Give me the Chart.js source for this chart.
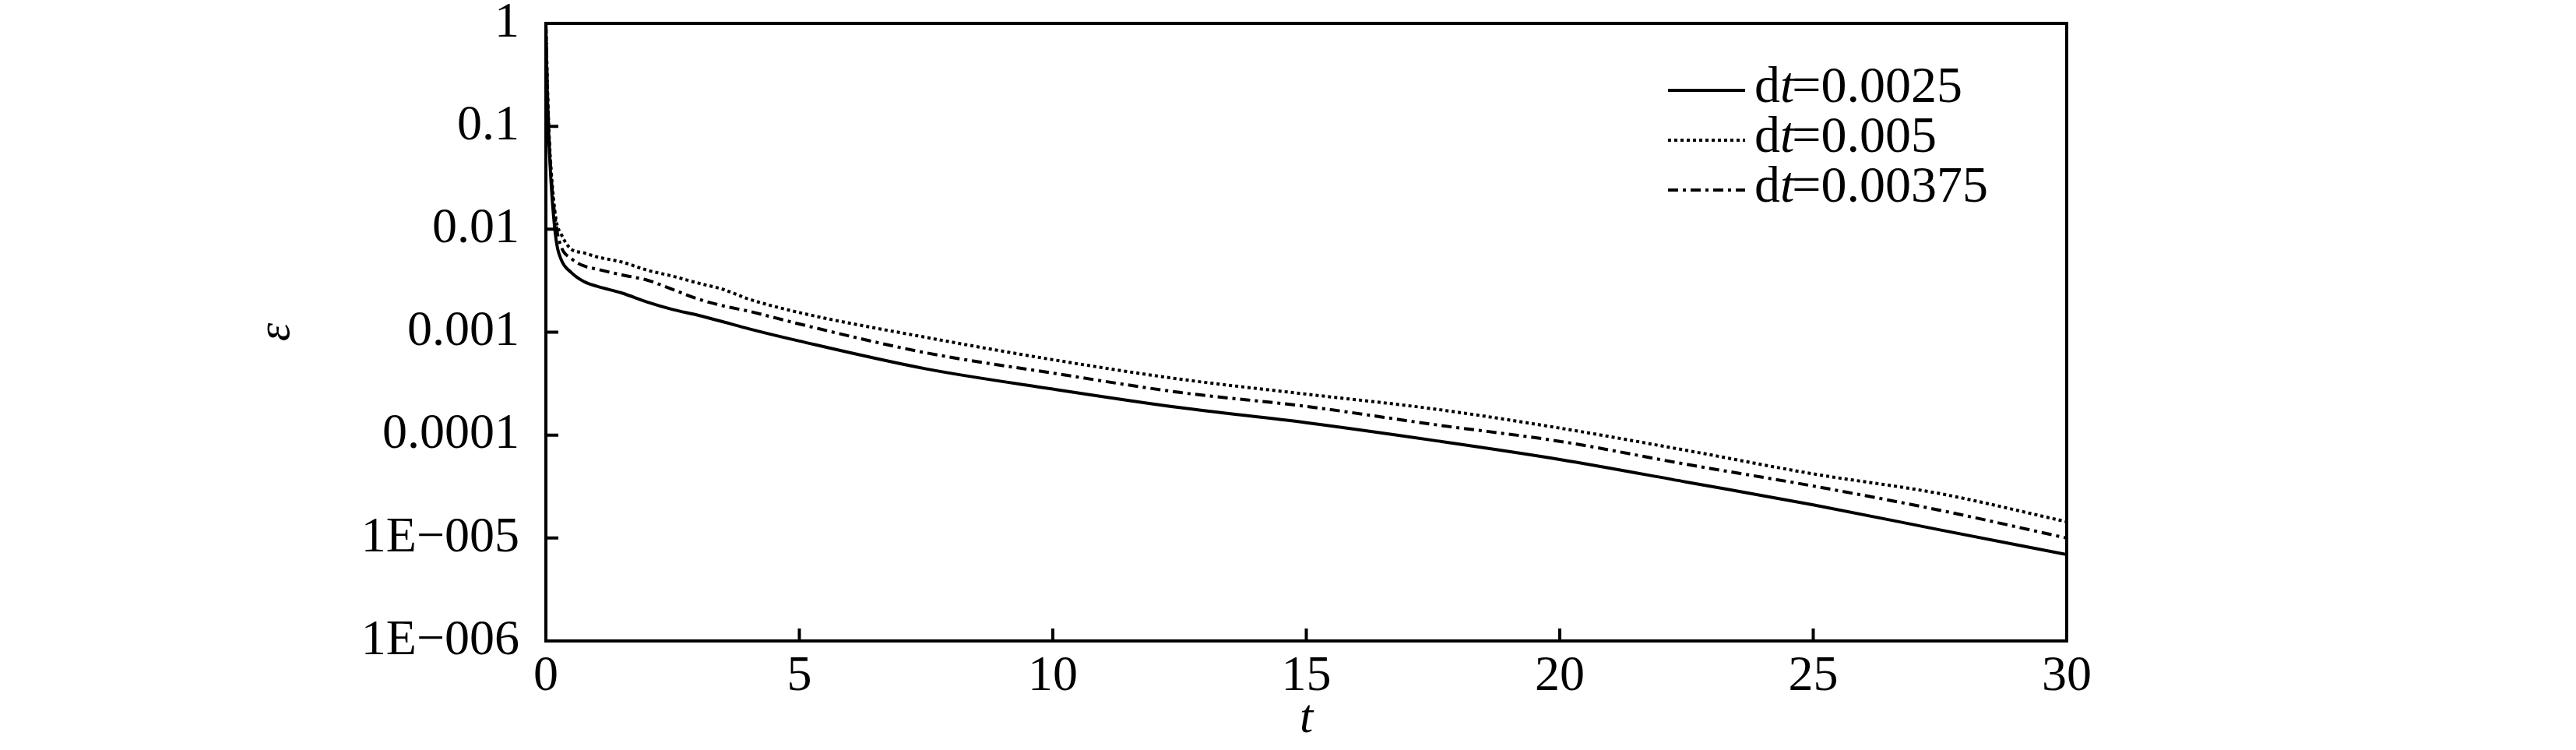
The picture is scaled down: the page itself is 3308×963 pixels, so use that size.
<!DOCTYPE html>
<html lang="en">
<head>
  <meta charset="UTF-8">
  <title>Error vs t</title>
  <script src="https://cdn.jsdelivr.net/npm/chart.js"></script>
  <style>
    body { margin: 0; background: #fff; }
  </style>
</head>
<body>
  <canvas id="errChart" width="3308" height="963"></canvas>

  <script>
    // values (t, epsilon)
    const tValues = [0, 0.02, 0.05, 0.1, 0.2, 0.3, 0.5, 0.75, 1, 1.5, 2, 2.5, 3, 3.5, 4, 5, 7.5, 10, 12.5, 15, 17.5, 20, 22.5, 25, 27.5, 30];
    const epsDt0025 = [1, 0.3, 0.1, 0.03, 0.008, 0.0051, 0.0038, 0.0031, 0.0028, 0.0024, 0.00196, 0.00166, 0.00146, 0.00126, 0.00108, 0.00082, 0.00044, 0.00028, 0.000185, 0.000132, 0.000089, 0.000058, 0.000035, 0.000021, 0.000012, 0.0000069];
    const epsDt005 = [1, 0.4, 0.12, 0.04, 0.0125, 0.009, 0.0064, 0.0059, 0.0054, 0.0048, 0.004, 0.0035, 0.003, 0.0026, 0.0021, 0.00155, 0.00089, 0.00054, 0.00035, 0.00025, 0.00018, 0.000117, 0.000071, 0.000042, 0.000027, 0.0000144];
    const epsDt00375 = [1, 0.35, 0.11, 0.035, 0.011, 0.0068, 0.0052, 0.0044, 0.0041, 0.0036, 0.0032, 0.0026, 0.0021, 0.0018, 0.0016, 0.0012, 0.00063, 0.0004, 0.00026, 0.00019, 0.000127, 0.000087, 0.000052, 0.000032, 0.0000186, 0.00001];

    const seriesLabels = ["0.0025", "0.005", "0.00375"];
    const xTickValues = [0, 5, 10, 15, 20, 25, 30];
    const yTickValues = [1, 0.1, 0.01, 0.001, 0.0001, 1e-5, 1e-6];
    const yTickLabels = ["1", "0.1", "0.01", "0.001", "0.0001", "1E\u2212005", "1E\u2212006"];

    const serif = '"Liberation Serif", "Times New Roman", serif';
    Chart.defaults.font.family = serif;
    Chart.defaults.color = "#000";

    function toPoints(ys) {
      return tValues.map((t, i) => ({ x: t, y: ys[i] }));
    }

    // frame + inward tick marks
    const framePlugin = {
      id: "frame",
      afterDraw(chart) {
        const { ctx, chartArea: a, scales } = chart;
        ctx.save();
        ctx.strokeStyle = "#000";
        ctx.lineWidth = 4;
        ctx.setLineDash([]);
        ctx.strokeRect(a.left, a.top, a.right - a.left, a.bottom - a.top);
        ctx.beginPath();
        yTickValues.forEach(v => {
          const y = scales.y.getPixelForValue(v);
          ctx.moveTo(a.left, y);
          ctx.lineTo(a.left + 16, y);
        });
        xTickValues.forEach(v => {
          const x = scales.x.getPixelForValue(v);
          ctx.moveTo(x, a.bottom);
          ctx.lineTo(x, a.bottom - 16);
        });
        ctx.stroke();
        ctx.restore();
      }
    };

    // legend with italic t in "dt"
    const legendPlugin = {
      id: "dtLegend",
      afterDraw(chart) {
        const ctx = chart.ctx;
        const x0 = 2142, x1 = 2241, tx = 2253;
        const base = [131, 195, 259];
        ctx.save();
        seriesLabels.forEach((lab, i) => {
          const ds = chart.data.datasets[i];
          const y = base[i] - 15;
          ctx.strokeStyle = "#000";
          ctx.lineWidth = ds.borderWidth;
          ctx.setLineDash(ds.borderDash || []);
          ctx.beginPath();
          ctx.moveTo(x0, y);
          ctx.lineTo(x1, y);
          ctx.stroke();
          ctx.setLineDash([]);

          let x = tx;
          ctx.fillStyle = "#000";
          ctx.textBaseline = "alphabetic";
          ctx.textAlign = "left";
          ctx.font = "66px " + serif;
          ctx.fillText("d", x, base[i]);
          x += ctx.measureText("d").width;
          ctx.font = "italic 66px " + serif;
          ctx.fillText("t", x, base[i]);
          x += ctx.measureText("t").width - 3;
          ctx.font = "66px " + serif;
          ctx.fillText("=" + lab, x, base[i]);
        });
        ctx.restore();
      }
    };

    new Chart(document.getElementById("errChart"), {
      type: "line",
      data: {
        datasets: [
          {
            label: "dt=" + seriesLabels[0],
            data: toPoints(epsDt0025),
            borderColor: "#000",
            borderWidth: 4,
            pointRadius: 0,
            cubicInterpolationMode: "monotone"
          },
          {
            label: "dt=" + seriesLabels[1],
            data: toPoints(epsDt005),
            borderColor: "#000",
            borderWidth: 4,
            borderDash: [4, 4],
            pointRadius: 0,
            cubicInterpolationMode: "monotone"
          },
          {
            label: "dt=" + seriesLabels[2],
            data: toPoints(epsDt00375),
            borderColor: "#000",
            borderWidth: 4,
            borderDash: [13, 6, 4, 6],
            pointRadius: 0,
            cubicInterpolationMode: "monotone"
          }
        ]
      },
      options: {
        responsive: false,
        animation: false,
        layout: { padding: { left: 0, right: 654, top: 30, bottom: 0 } },
        plugins: {
          legend: { display: false },
          tooltip: { enabled: false }
        },
        scales: {
          x: {
            type: "linear",
            min: 0,
            max: 30,
            afterBuildTicks: s => { s.ticks = xTickValues.map(v => ({ value: v })); },
            afterFit: s => { s.height = 140; s.paddingLeft = 0; s.paddingRight = 0; },
            grid: { display: false, drawTicks: false },
            border: { display: false },
            ticks: { font: { size: 64 }, padding: 8, maxRotation: 0 },
            title: {
              display: true,
              text: "t",
              font: { size: 62, style: "italic" },
              padding: { top: 0, bottom: 2 }
            }
          },
          y: {
            type: "logarithmic",
            min: 1e-6,
            max: 1,
            afterBuildTicks: s => { s.ticks = yTickValues.map(v => ({ value: v })); },
            afterFit: s => { s.width = 701; s.paddingTop = 0; s.paddingBottom = 0; },
            grid: { display: false, drawTicks: false },
            border: { display: false },
            ticks: {
              font: { size: 64 },
              padding: 34,
              callback: (v, i) => yTickLabels[i]
            },
            title: {
              display: true,
              text: "\u03b5",
              font: { size: 60, style: "italic" },
              padding: { top: 319, bottom: 0 }
            }
          }
        }
      },
      plugins: [framePlugin, legendPlugin]
    });
  </script>
</body>
</html>
